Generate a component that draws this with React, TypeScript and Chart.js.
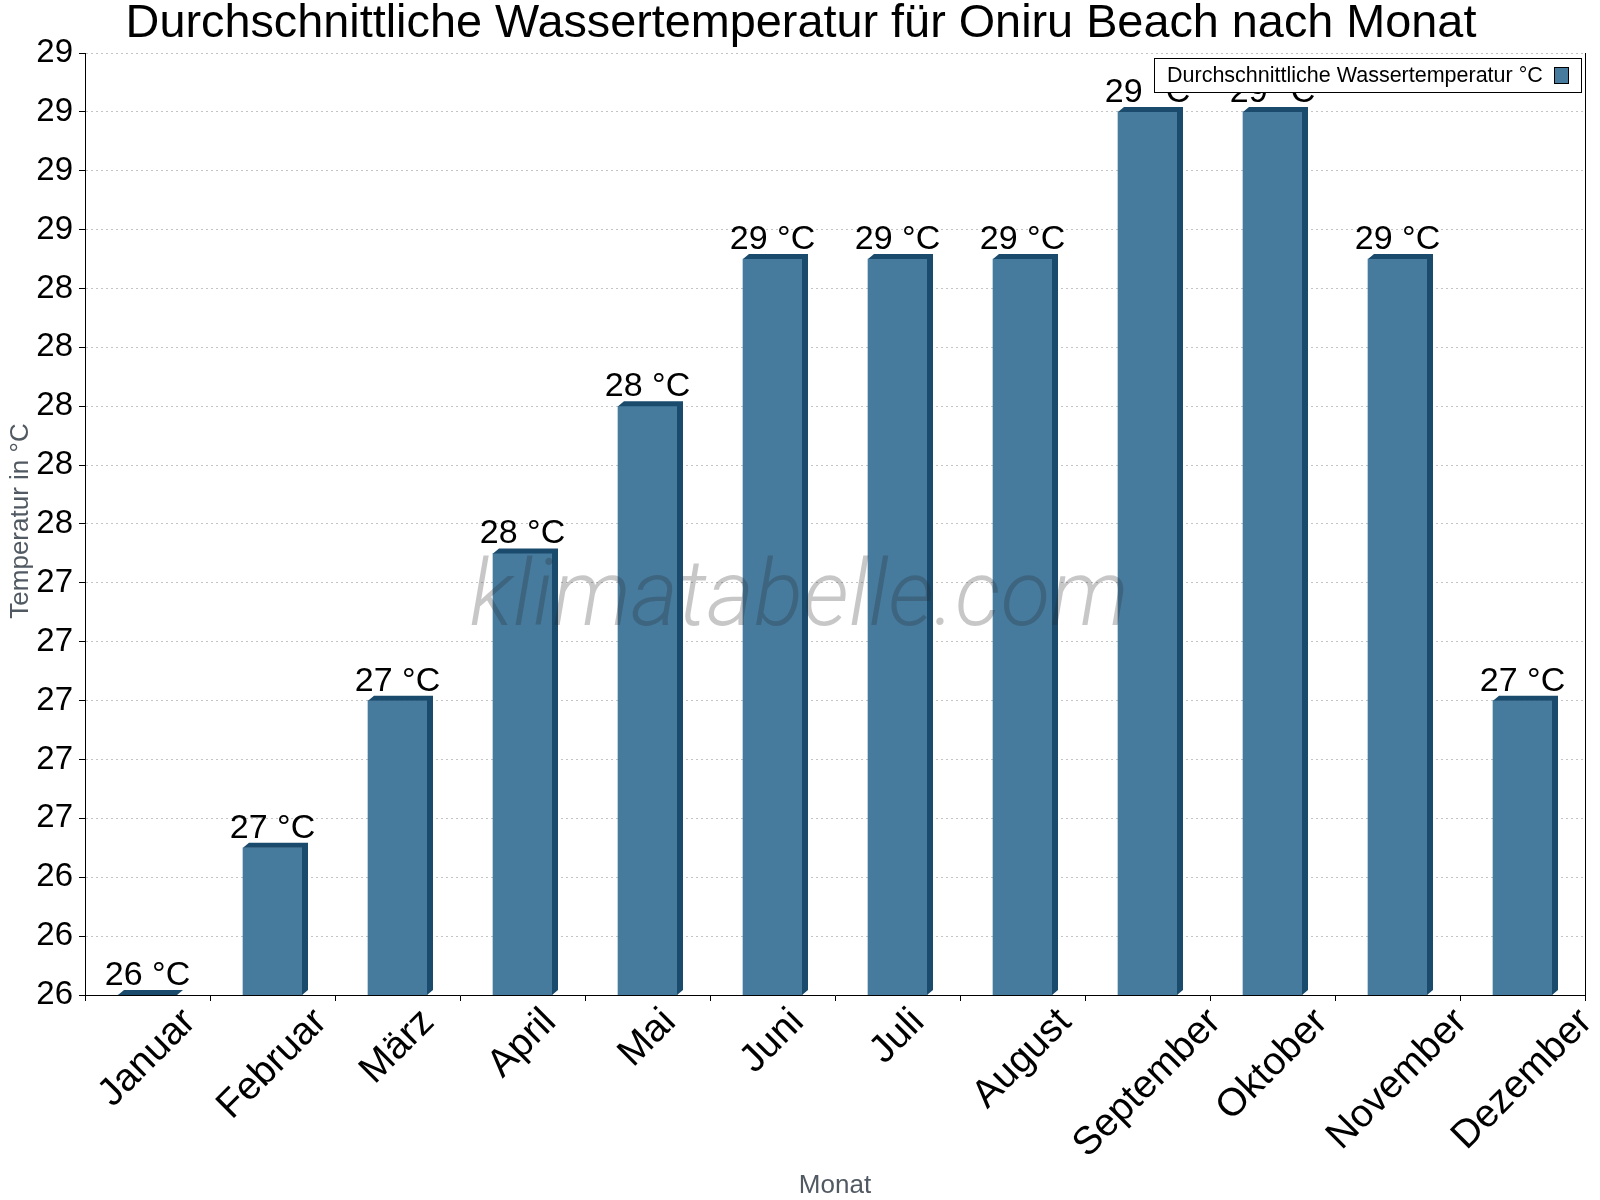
import React, { useEffect, useRef } from "react";
import { Chart, registerables } from "chart.js";

Chart.register(...registerables);

// Monthly average water temperature, Oniru Beach
const months = [
  "Januar",
  "Februar",
  "März",
  "April",
  "Mai",
  "Juni",
  "Juli",
  "August",
  "September",
  "Oktober",
  "November",
  "Dezember",
];
const waterTemp = [26.0, 26.5, 27.0, 27.5, 28.0, 28.5, 28.5, 28.5, 29.0, 29.0, 28.5, 27.0];

const yMin = 26;
const yMax = 29.2;
const yStep = 0.2;

const chartTitle = "Durchschnittliche Wassertemperatur für Oniru Beach nach Monat";
const seriesName = "Durchschnittliche Wassertemperatur °C";
const yAxisTitle = "Temperatur in °C";
const xAxisTitle = "Monat";
const watermarkText = "klimatabelle.com";
const unit = "°C";

const FONT = "'Liberation Sans', Arial, Helvetica, sans-serif";
const BAR_FRONT = "#467b9e";
const BAR_DARK = "#1a4b6d";
const AXIS_TITLE_COLOR = "#515962";
const DEPTH_X = 6;
const DEPTH_Y = 5;

// Box-look bars, watermark, value labels, month labels, titles and legend
const decorationsPlugin = {
  id: "decorations",
  afterDatasetsDraw(chart: any) {
    const { ctx, chartArea } = chart;
    const meta = chart.getDatasetMeta(0);
    ctx.save();
    ctx.fillStyle = BAR_DARK;
    meta.data.forEach((bar: any) => {
      const { x, y, base, width } = bar.getProps(["x", "y", "base", "width"], true);
      const b = Math.min(base, chartArea.bottom);
      const l = x - width / 2;
      const r = x + width / 2;
      ctx.beginPath();
      ctx.moveTo(l, y);
      ctx.lineTo(l + DEPTH_X, y - DEPTH_Y);
      ctx.lineTo(r + DEPTH_X, y - DEPTH_Y);
      ctx.lineTo(r + DEPTH_X, b - DEPTH_Y);
      ctx.lineTo(r, b);
      ctx.lineTo(r, y);
      ctx.closePath();
      ctx.fill();
    });

    // watermark across the plot
    ctx.save();
    ctx.font = `italic 300 92px Roboto, ${FONT}`;
    ctx.fillStyle = "rgba(40,40,40,0.26)";
    ctx.textAlign = "center";
    ctx.textBaseline = "alphabetic";
    const w = ctx.measureText(watermarkText).width;
    const sx = 659 / w;
    ctx.translate(799, 625);
    ctx.scale(sx, 1);
    ctx.fillText(watermarkText, 0, 0);
    ctx.restore();

    // value labels above the bars
    ctx.font = `34px ${FONT}`;
    ctx.fillStyle = "#000";
    ctx.textAlign = "center";
    ctx.textBaseline = "alphabetic";
    meta.data.forEach((bar: any, i: number) => {
      const { x, y } = bar.getProps(["x", "y"], true);
      ctx.fillText(`${Math.round(waterTemp[i])} ${unit}`, x, y - 10);
    });
    ctx.restore();
  },
  afterDraw(chart: any) {
    const { ctx, chartArea } = chart;
    const xScale = chart.scales.x;
    ctx.save();

    // right frame line
    ctx.strokeStyle = "#000";
    ctx.lineWidth = 1;
    ctx.beginPath();
    ctx.moveTo(Math.round(chartArea.right) + 0.5, chartArea.top);
    ctx.lineTo(Math.round(chartArea.right) + 0.5, chartArea.bottom);
    ctx.stroke();

    // month labels, turned 45° and centred under each category
    ctx.fillStyle = "#000";
    ctx.font = `39px ${FONT}`;
    ctx.textAlign = "center";
    ctx.textBaseline = "middle";
    months.forEach((m, i) => {
      const cx = xScale.getPixelForTick(i);
      const tw = ctx.measureText(m).width;
      const cy = chartArea.bottom + 21 + (0.7071 * tw) / 2;
      ctx.save();
      ctx.translate(cx, cy);
      ctx.rotate(-Math.PI / 4);
      ctx.fillText(m, 0, 0);
      ctx.restore();
    });

    // title
    ctx.fillStyle = "#000";
    ctx.font = `46.8px ${FONT}`;
    ctx.textAlign = "center";
    ctx.textBaseline = "alphabetic";
    ctx.fillText(chartTitle, 801, 37);

    // axis titles
    ctx.fillStyle = AXIS_TITLE_COLOR;
    ctx.font = `26px ${FONT}`;
    ctx.fillText(xAxisTitle, (chartArea.left + chartArea.right) / 2, 1193);
    ctx.save();
    ctx.translate(28, (chartArea.top + chartArea.bottom) / 2 - 3);
    ctx.rotate(-Math.PI / 2);
    ctx.fillText(yAxisTitle, 0, 0);
    ctx.restore();

    // legend
    const lx = 1154;
    const ly = 58;
    const lw = 427;
    const lh = 34;
    ctx.fillStyle = "#fff";
    ctx.fillRect(lx, ly, lw, lh);
    ctx.strokeStyle = "#000";
    ctx.lineWidth = 1;
    ctx.strokeRect(lx + 0.5, ly + 0.5, lw, lh);
    ctx.fillStyle = "#000";
    ctx.font = `21.5px ${FONT}`;
    ctx.textAlign = "left";
    ctx.textBaseline = "middle";
    ctx.fillText(seriesName, 1167, ly + lh / 2 + 1);
    ctx.fillStyle = BAR_FRONT;
    ctx.fillRect(1554, 67, 14, 16);
    ctx.strokeRect(1554.5, 67.5, 14, 16);

    ctx.restore();
  },
};

export default function App() {
  const canvasRef = useRef<HTMLCanvasElement | null>(null);

  useEffect(() => {
    const canvas = canvasRef.current;
    if (!canvas) return;
    const chart = new Chart(canvas, {
      type: "bar",
      data: {
        labels: months,
        datasets: [
          {
            label: seriesName,
            data: waterTemp,
            backgroundColor: BAR_FRONT,
            borderWidth: 0,
            barThickness: 59,
          },
        ],
      },
      options: {
        responsive: false,
        animation: false,
        devicePixelRatio: 1,
        layout: {
          autoPadding: false,
          padding: { top: 53, right: 15, left: 0, bottom: 0 },
        },
        plugins: {
          legend: { display: false },
          title: { display: false },
          tooltip: { enabled: false },
        },
        scales: {
          x: {
            offset: true,
            grid: {
              display: true,
              offset: true,
              drawOnChartArea: false,
              drawTicks: true,
              tickLength: 6,
              tickColor: "#000",
              tickWidth: 1,
            },
            border: { display: true, color: "#000", width: 1 },
            ticks: {
              display: false,
              autoSkip: false,
            },
            afterFit(scale: any) {
              scale.height = 205;
              scale.paddingLeft = 0;
              scale.paddingRight = 0;
            },
          },
          y: {
            min: yMin,
            max: yMax,
            grid: {
              color: "#c4c4c4",
              lineWidth: 1,
              drawTicks: true,
              tickLength: 6,
              tickColor: "#000",
              tickWidth: 1,
              tickBorderDash: [],
            },
            border: { display: true, color: "#000", width: 1, dash: [2, 3] },
            ticks: {
              stepSize: yStep,
              color: "#000",
              padding: 6,
              font: { family: FONT, size: 33 },
              callback: (value: any) => String(Math.round(Number(value))),
            },
            afterFit(scale: any) {
              scale.width = 85;
              scale.paddingTop = 0;
              scale.paddingBottom = 0;
            },
          },
        },
      },
      plugins: [decorationsPlugin],
    });
    return () => chart.destroy();
  }, []);

  return (
    <div
      style={{
        position: "fixed",
        left: 0,
        top: 0,
        width: 1600,
        height: 1200,
        background: "#fff",
      }}
    >
      <canvas ref={canvasRef} width={1600} height={1200} style={{ display: "block" }} />
    </div>
  );
}
